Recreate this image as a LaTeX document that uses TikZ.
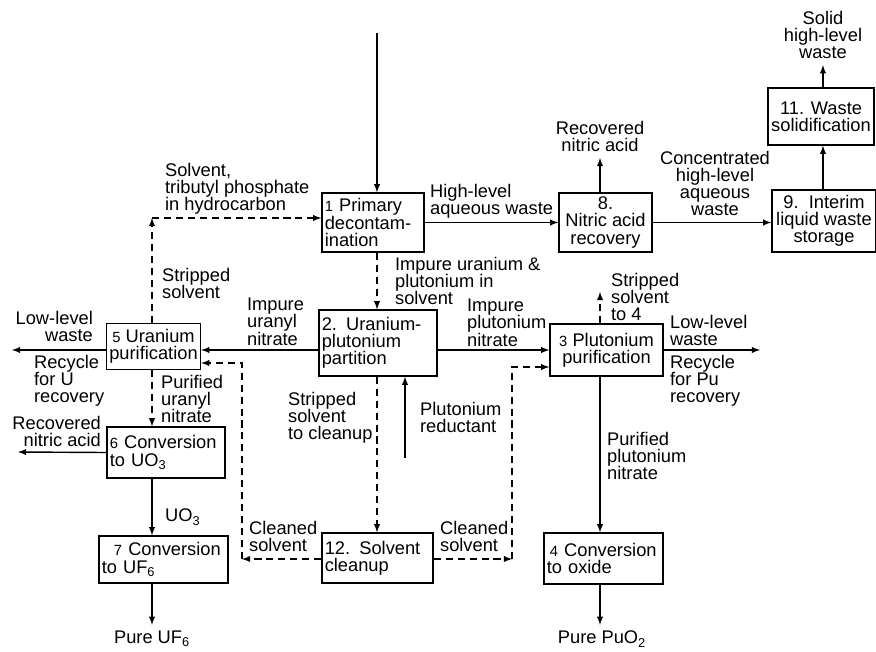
\documentclass[tikz,border=0pt]{standalone}
\usepackage{fontspec}
\setmainfont{Liberation Sans}
\newcommand{\stepnum}[1]{{\fontsize{10.5}{10}\selectfont #1}}

\begin{document}
\begin{tikzpicture}[>=latex, x=0.025cm, y=-0.025cm, line width=1pt,
  font=\fontsize{13}{12.2}\selectfont,
  box/.style={draw, inner xsep=2pt, inner ysep=0pt},
  lbl/.style={inner sep=1pt, align=left},
  solvline/.style={dash pattern=on 5pt off 3.5pt}]
  \useasboundingbox (0,0) rectangle (876,652);

  % process steps
  \node (b1) at (373,222.5) [box, text width=2.41cm, minimum height=1.475cm, align=left] {\stepnum{1} Primary\\decontam-\\ination};
  \node (b2) at (378,343) [box, text width=2.81cm, minimum height=1.65cm, align=left] {2. Uranium-\\plutonium\\partition};
  \node (b3) at (606.5,350) [box, minimum width=2.825cm, minimum height=1.3cm, align=center] {\stepnum{3} Plutonium\\purification};
  \node (b4) at (603.5,558.5) [box, text width=2.835cm, minimum height=1.275cm, align=left] {\,\stepnum{4} Conversion\\to oxide};
  \node (b5) at (153.5,346.5) [box, minimum width=2.325cm, minimum height=1.15cm, align=center] {\stepnum{5} Uranium\\purification};
  \node (b6) at (166,452.5) [box, text width=2.81cm, minimum height=1.275cm, align=left] {\stepnum{6} Conversion\\to UO\textsubscript{3}};
  \node (b7) at (163.5,559.5) [box, text width=3.085cm, minimum height=1.175cm, align=left] {\ \ \stepnum{7} Conversion\\to UF\textsubscript{6}};
  \node (b8) at (605.5,222.5) [box, minimum width=2.325cm, minimum height=1.475cm, align=center] {8.\\Nitric acid\\recovery};
  \node (b9) at (824,221) [box, minimum width=2.6cm, minimum height=1.55cm, align=center] {9.~~Interim\\liquid waste\\storage};
  \node (b11) at (821,116.5) [box, minimum width=2.65cm, minimum height=1.425cm, align=center] {11. Waste\\solidification};
  \node (b12) at (377.5,558) [box, text width=2.635cm, minimum height=1.25cm, align=left] {12. Solvent\\cleanup};

  % stream labels
  \node (solv) at (163,161) [lbl, anchor=north west] {Solvent,\\tributyl phosphate\\in hydrocarbon};
  \node (strp) at (160,266) [lbl, anchor=north west] {Stripped\\solvent};
  \node (llu) at (95,309) [lbl, anchor=north east, align=right] {Low-level\\waste};
  \node (iun) at (245,296) [lbl, anchor=north west] {Impure\\uranyl\\nitrate};
  \node (recu) at (32,353) [lbl, anchor=north west] {Recycle\\for U\\recovery};
  \node (puun) at (159,373) [lbl, anchor=north west] {Purified\\uranyl\\nitrate};
  \node (racu) at (103,414) [lbl, anchor=north east, align=right] {Recovered\\nitric acid};
  \node (uo) at (163,507) [lbl, anchor=north west] {UO\textsubscript{3}};
  \node (pureu) at (152,629) [lbl, anchor=north] {Pure UF\textsubscript{6}};
  \node (cls) at (247,519) [lbl, anchor=north west] {Cleaned\\solvent};
  \node (crs) at (438,519) [lbl, anchor=north west] {Cleaned\\solvent};
  \node (stc) at (286,390) [lbl, anchor=north west] {Stripped\\solvent\\to cleanup};
  \node (pred) at (418,400) [lbl, anchor=north west] {Plutonium\\reductant};
  \node (iup) at (393,255) [lbl, anchor=north west] {Impure uranium \&\\plutonium in\\solvent};
  \node (hlw) at (428,182) [lbl, anchor=north west] {High-level\\aqueous waste};
  \node (ipn) at (465,297) [lbl, anchor=north west] {Impure\\plutonium\\nitrate};
  \node (st4) at (609,271) [lbl, anchor=north west] {Stripped\\solvent\\to 4};
  \node (llp) at (668,313) [lbl, anchor=north west] {Low-level\\waste};
  \node (recp) at (668,353) [lbl, anchor=north west] {Recycle\\for Pu\\recovery};
  \node (ppn) at (605,430) [lbl, anchor=north west] {Purified\\plutonium\\nitrate};
  \node (purepu) at (602,629) [lbl, anchor=north] {Pure PuO\textsubscript{2}};
  \node (rna) at (600,119) [lbl, anchor=north, align=center] {Recovered\\nitric acid};
  \node (chlw) at (715,149) [lbl, anchor=north, align=center] {Concentrated\\high-level\\aqueous\\waste};
  \node (shlw) at (823,9) [lbl, anchor=north, align=center] {Solid\\high-level\\waste};

  % free ends and bends
  \coordinate (feed) at (377,33);
  \coordinate (tbp) at (152,218);
  \coordinate (uout) at (12,350);
  \coordinate (nout) at (18,452);
  \coordinate (red) at (405,458);
  \coordinate (cl) at (242,559);
  \coordinate (clu) at (242,363);
  \coordinate (cr) at (512,559);
  \coordinate (cru) at (512,367);
  \coordinate (pux) at (600,292);
  \coordinate (puout) at (760,350);

  % aqueous streams
  \draw [->] (feed) -- (b1.north -| feed);
  \draw [->] (b1.east) -- (b8.west);
  \draw [->, shorten >=3pt] (b8.north -| pux) -- (rna.south -| pux);
  \draw [->] (b8.east) -- (b8.east -| b9.west);
  \draw [->] (b9.north -| shlw) -- (b11.south -| shlw);
  \draw [->, shorten >=3pt] (b11.north -| shlw) -- (shlw.south);
  \draw [->] (b2.west |- b3.west) -- (b5.east |- b3.west);
  \draw [->] (b2.east |- b3.west) -- (b3.west);
  \draw [->] (b5.west |- uout) -- (uout);
  \draw [->] (b3.east) -- (puout);
  \draw [->] (b6.west) -- (nout);
  \draw [->] (b6.south -| tbp) -- (b7.north -| tbp);
  \draw [->, shorten >=3pt] (b7.south -| tbp) -- (pureu.north -| tbp);
  \draw [->] (red) -- (red |- b2.south);
  \draw [->] (b3.south -| pux) -- (b4.north -| pux);
  \draw [->, shorten >=3pt] (b4.south -| pux) -- (purepu.north -| pux);

  % solvent streams
  \draw [solvline, ->] (b5.north -| tbp) -- (tbp);
  \draw [solvline, ->] (tbp) -- (tbp -| b1.west);
  \draw [solvline, ->] (b1.south -| feed) -- (b2.north -| feed);
  \draw [solvline, ->] (b5.south -| tbp) -- (b6.north -| tbp);
  \draw [solvline, ->] (b2.south -| feed) -- (b12.north -| feed);
  \draw [solvline, ->] (b12.west |- cl) -- (cl);
  \draw [solvline, ->] (cl) -- (clu) -- (clu -| b5.east);
  \draw [solvline, ->] (b12.east |- cr) -- (cr);
  \draw [solvline, ->] (cr) -- (cru) -- (cru -| b3.west);
  \draw [solvline, ->] (b3.north -| pux) -- (pux);
\end{tikzpicture}
\end{document}
